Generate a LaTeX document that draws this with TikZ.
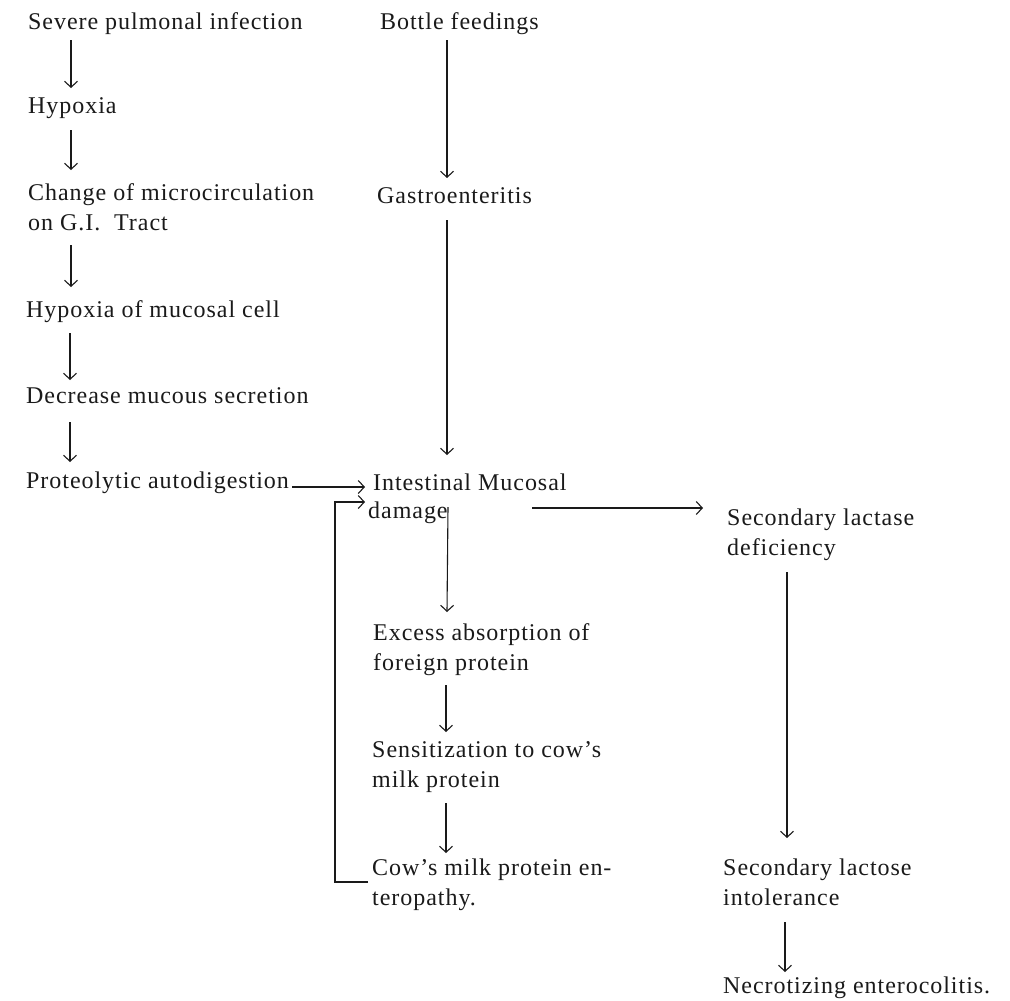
\documentclass[tikz,border=0pt]{standalone}
\usepackage{fontspec}
\setmainfont{Liberation Serif}[LetterSpace=4]
\usetikzlibrary{arrows.meta,calc}
\definecolor{ink}{HTML}{1A1A1A}
\newcommand{\twol}[2]{\begin{tabular}[t]{@{}l@{}}#1\\#2\end{tabular}}
\begin{document}
\begin{tikzpicture}[x=1pt,y=-1pt,
  lbl/.style={anchor=base west,inner sep=0pt,text=ink,font=\fontsize{24}{30}\selectfont},
  arr/.style={draw=ink,line width=1.1pt,-{Straight Barb[length=6pt,width=13pt]}}]
\useasboundingbox[fill=white] (0,0) rectangle (1010,1001);
% left column
\node[lbl] (sev) at (28,30) {Severe pulmonal infection};
\node[lbl] (hyp) at (28,113) {Hypoxia};
\node[lbl] (chg) at (28,200) {\twol{Change of microcirculation}{on G.I.\ \ Tract}};
\node[lbl] (hmc) at (26,317) {Hypoxia of mucosal cell};
\node[lbl] (dec) at (26,403) {Decrease mucous secretion};
\node[lbl] (pro) at (26,488) {Proteolytic autodigestion};
% middle column
\node[lbl] (bot) at (380,30) {Bottle feedings};
\node[lbl] (gas) at (377,203) {Gastroenteritis};
\node[lbl] (imd) at (373,490) {\begin{tabular}[t]{@{}l@{}}Intestinal Mucosal\\[-2pt]\hspace*{-5pt}damage\end{tabular}};
\node[lbl] (exc) at (373,640) {\twol{Excess absorption of}{foreign protein}};
\node[lbl] (sen) at (372,757) {\twol{Sensitization to cow’s}{milk protein}};
\node[lbl] (cow) at (372,875) {\twol{Cow’s milk protein en-}{teropathy.}};
% right column
\node[lbl] (sld) at (727,525) {\twol{Secondary lactase}{deficiency}};
\node[lbl] (sli) at (723,875) {\twol{Secondary lactose}{intolerance}};
\node[lbl] (nec) at (723,993) {Necrotizing enterocolitis.};
\coordinate (loop) at (335,0);
\coordinate (fbs) at ($(cow.base west)+(-4,7)$);
\coordinate (fbe) at ($(imd.base west)+(-8,12)$);
% left column arrows
\draw[arr] ($(sev.base west)+(43,10)$) -- ($(hyp.base west)+(43,-25)$);
\draw[arr] ($(hyp.base west)+(43,17)$) -- ($(chg.base west)+(43,-30)$);
\draw[arr] ($(chg.base west)+(43,45)$) -- ($(hmc.base west)+(45,-30)$);
\draw[arr] ($(hmc.base west)+(44,16)$) -- ($(dec.base west)+(44,-23)$);
\draw[arr] ($(dec.base west)+(44,19)$) -- ($(pro.base west)+(44,-26)$);
% middle column arrows
\draw[arr] ($(bot.base west)+(67,10)$) -- ($(gas.base west)+(70,-25)$);
\draw[arr] ($(gas.base west)+(70,17)$) -- ($(imd.base west)+(74,-35)$);
\draw[arr] ($(imd.base west)+(75,17)$) -- ($(exc.base west)+(74,-28)$);
\draw[arr] ($(exc.base west)+(73,45)$) -- ($(sen.base west)+(74,-25)$);
\draw[arr] ($(sen.base west)+(74,46)$) -- ($(cow.base west)+(74,-22)$);
% horizontal arrows
\draw[arr] ($(pro.base east)+(3,-1)$) -- ($(imd.base west)+(-8,-3)$);
\draw[arr] ($(imd.base west)+(159,18)$) -- ($(sld.base west)+(-24,-17)$);
% feedback loop
\draw[arr] (fbs) -- (fbs -| loop) |- (fbe);
% right column arrows
\draw[arr] ($(sld.base west)+(60,47)$) -- ($(sli.base west)+(64,-37)$);
\draw[arr] ($(sli.base west)+(62,47)$) -- ($(nec.base west)+(62,-21)$);
\end{tikzpicture}
\end{document}
